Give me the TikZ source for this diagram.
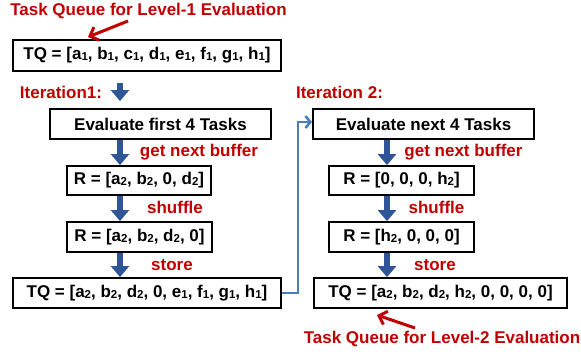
\documentclass[tikz,border=0pt]{standalone}
\usepackage{fontspec}
\setmainfont{Liberation Sans}
\usetikzlibrary{arrows.meta}
\definecolor{labelred}{HTML}{C00000}
\definecolor{flowblue}{HTML}{2F5597}
\definecolor{linkblue}{HTML}{4A7EBB}
\newcommand\sbs[1]{\raisebox{-0.8pt}{\fontsize{11.5}{11.5}\selectfont #1}}
\begin{document}
\begin{tikzpicture}[x=1pt,y=-1pt,
  box/.style={draw=black,line width=1.8pt,rectangle,inner sep=0pt,
    font=\fontsize{17}{19}\selectfont\bfseries},
  lbl/.style={text=labelred,inner sep=0pt,font=\fontsize{17}{19}\selectfont\bfseries},
  bigarrow/.style={draw=flowblue,line width=6.5pt,
    -{Triangle[length=11pt,width=18pt]}},
  pointer/.style={draw=labelred,line width=3pt,
    -{Straight Barb[length=7pt,width=14pt,line width=3pt]}},
  link/.style={draw=linkblue,line width=2.6pt,
    -{Straight Barb[length=5pt,width=12pt,line width=2.6pt]}}]
\useasboundingbox (0,0) rectangle (581,354);

% left column: level-1 queue and first iteration
\node[box,minimum width=268pt,minimum height=31pt] (tq1) at (147,55.5)
  {TQ = [a\sbs{1}, b\sbs{1}, c\sbs{1}, d\sbs{1}, e\sbs{1}, f\sbs{1}, g\sbs{1}, h\sbs{1}]};
\node[box,minimum width=221pt,minimum height=30pt] (ev1) at (160.5,124) {Evaluate first 4 Tasks};
\node[box,minimum width=144pt,minimum height=29pt] (r1) at (139,180.5) {R = [a\sbs{2}, b\sbs{2}, 0, d\sbs{2}]};
\node[box,minimum width=145pt,minimum height=30pt] (r2) at (139.5,237) {R = [a\sbs{2}, b\sbs{2}, d\sbs{2}, 0]};
\node[box,minimum width=268pt,minimum height=30pt] (tq2) at (147,293)
  {TQ = [a\sbs{2}, b\sbs{2}, d\sbs{2}, 0, e\sbs{1}, f\sbs{1}, g\sbs{1}, h\sbs{1}]};

% right column: second iteration and level-2 queue
\node[box,minimum width=221pt,minimum height=30pt] (ev2) at (423.5,124) {Evaluate next 4 Tasks};
\node[box,minimum width=145pt,minimum height=29pt] (r3) at (401.5,180.5) {R = [0, 0, 0, h\sbs{2}]};
\node[box,minimum width=145pt,minimum height=30pt] (r4) at (401.5,237) {R = [h\sbs{2}, 0, 0, 0]};
\node[box,minimum width=253pt,minimum height=30pt] (tq3) at (440.5,293)
  {TQ = [a\sbs{2}, b\sbs{2}, d\sbs{2}, h\sbs{2}, 0, 0, 0, 0]};

% red labels
\node[lbl] (title1) at (148.5,11) {Task Queue for Level-1 Evaluation};
\node[lbl] (title2) at (442,339) {Task Queue for Level-2 Evaluation};
\node[lbl] (it1) at (61,92) {Iteration1:};
\node[lbl] (it2) at (339.5,92) {Iteration 2:};
\node[lbl] (gnb1) at (199,152) {get next buffer};
\node[lbl] (gnb2) at (463.5,152) {get next buffer};
\node[lbl] (sh1) at (175,207) {shuffle};
\node[lbl] (sh2) at (436.5,207) {shuffle};
\node[lbl] (st1) at (172,265) {store};
\node[lbl] (st2) at (435,265) {store};

% pointer tips
\coordinate (p1tail) at (128,21);
\coordinate (p1head) at (88,37);
\coordinate (p2tail) at (415,328);
\coordinate (p2head) at (377,315);
\draw[pointer] (p1tail) -- (p1head);
\draw[pointer] (p2tail) -- (p2head);

% flow arrows
\coordinate (axl) at (120,0);
\coordinate (axr) at (387,0);
\draw[bigarrow] ([yshift=-11pt]tq1.south -| axl) -- ([yshift=7pt]ev1.north -| axl);
\draw[bigarrow] (ev1.south -| axl) -- (r1.north -| axl);
\draw[bigarrow] (r1.south -| axl) -- (r2.north -| axl);
\draw[bigarrow] (r2.south -| axl) -- (tq2.north -| axl);
\draw[bigarrow] (ev2.south -| axr) -- (r3.north -| axr);
\draw[bigarrow] (r3.south -| axr) -- (r4.north -| axr);
\draw[bigarrow] (r4.south -| axr) -- (tq3.north -| axr);

% hand-over from the first iteration to the second
\coordinate (bend) at (298,0);
\draw[link] (tq2.east) -- (tq2.east -| bend) -- ([yshift=2pt]ev2.west -| bend) -- ([yshift=2pt]ev2.west);
\end{tikzpicture}
\end{document}
